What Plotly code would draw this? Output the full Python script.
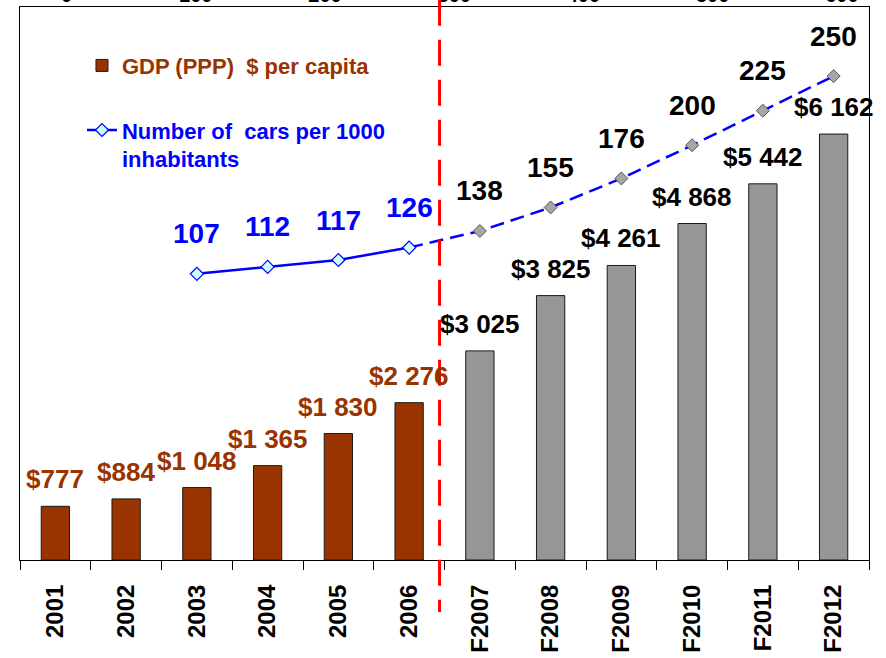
import plotly.graph_objects as go

# donnees du graphique
years = ["2001", "2002", "2003", "2004", "2005", "2006",
         "F2007", "F2008", "F2009", "F2010", "F2011", "F2012"]
gdp = [777, 884, 1048, 1365, 1830, 2276, 3025, 3825, 4261, 4868, 5442, 6162]
cars = [None, None, 107, 112, 117, 126, 138, 155, 176, 200, 225, 250]
n_hist = 6  # 2001-2006 = historique, le reste = prevision
top_ticks = [0, 100, 200, 300, 400, 500, 600]

BROWN = '#993300'
GREY = '#969696'
BLUE = '#0000FF'
FONT = 'Arial, Liberation Sans, sans-serif'

bar_colors = [BROWN] * n_hist + [GREY] * (len(years) - n_hist)

fig = go.Figure()

# barres du PIB
fig.add_trace(go.Bar(
    x=years, y=gdp,
    marker=dict(color=bar_colors, line=dict(color='#1a1a1a', width=1)),
    name="<span style='color:%s'>GDP (PPP)&nbsp;&nbsp;$ per capita</span>" % BROWN,
    legendgroup='gdp',
    hoverinfo='x+y'))

# ligne pointillee (prevision)
fc_x = years[n_hist - 1:]
fc_y = cars[n_hist - 1:]
fig.add_trace(go.Scatter(
    x=fc_x, y=fc_y, yaxis='y2', mode='lines+markers',
    line=dict(color=BLUE, width=2.5, dash='14px,7px'),
    marker=dict(symbol='diamond', size=10, color='#A6A6A6',
                line=dict(color='#555555', width=1)),
    showlegend=False, hoverinfo='x+y'))

# ligne pleine (historique)
hx = [x for x, c in zip(years[:n_hist], cars[:n_hist]) if c is not None]
hy = [c for c in cars[:n_hist] if c is not None]
fig.add_trace(go.Scatter(
    x=hx, y=hy, yaxis='y2', mode='lines+markers',
    line=dict(color=BLUE, width=2.5),
    marker=dict(symbol='diamond', size=10, color='#CCFFFF',
                line=dict(color=BLUE, width=1.2)),
    name="<span style='color:%s'>Number of&nbsp;&nbsp;cars per 1000<br>inhabitants</span>" % BLUE,
    legendgroup='cars', hoverinfo='x+y'))

# trace vide pour que l'axe du haut soit dessine
fig.add_trace(go.Scatter(x=[], y=[], xaxis='x2', showlegend=False, hoverinfo='skip'))

# etiquettes des valeurs (x = index de categorie)
annotations = []
for i, v in enumerate(gdp):
    annotations.append(dict(
        x=i, y=v, xref='x', yref='y', yshift=27, showarrow=False,
        text="$" + format(v, ',').replace(',', ' '),
        font=dict(family=FONT, size=26, color=BROWN if i < n_hist else 'black', weight='bold')))
for i, c in enumerate(cars):
    if c is None:
        continue
    annotations.append(dict(
        x=i, y=c, xref='x', yref='y2', yshift=40, showarrow=False,
        text=str(c),
        font=dict(family=FONT, size=28, color=BLUE if i < n_hist else 'black', weight='bold')))

fig.update_layout(
    width=886, height=658,
    margin=dict(l=20, r=17, t=7, b=98),
    paper_bgcolor='white', plot_bgcolor='white',
    font=dict(family=FONT, color='black'),
    bargap=0.6,
    showlegend=True,
    legend=dict(x=0.073, y=0.932, xanchor='left', yanchor='top',
                bgcolor='rgba(0,0,0,0)', valign='top',
                font=dict(family=FONT, size=22, weight='bold'),
                traceorder='grouped', tracegroupgap=33),
    annotations=annotations,
    xaxis=dict(type='category', categoryorder='array', categoryarray=years,
               range=[-0.5, len(years) - 0.5],
               showline=True, linecolor='black', linewidth=1, mirror=True,
               ticks='outside', ticklen=9, tickcolor='black', tickson='boundaries',
               tickangle=-90, ticklabelstandoff=14,
               tickfont=dict(family=FONT, size=24, color='black', weight='bold'),
               showgrid=False, zeroline=False, automargin=False),
    xaxis2=dict(overlaying='x', side='top', anchor='y', range=[-36, 621],
                tickmode='array', tickvals=top_ticks, ticks='', showline=False,
                showgrid=False, zeroline=False, automargin=False,
                tickfont=dict(family=FONT, size=20, color='black', weight='bold')),
    xaxis3=dict(overlaying='x', side='bottom', anchor='y', range=[-0.5, len(years) - 0.5],
                tickmode='array', tickvals=[i - 0.5 for i in range(len(years) + 1)],
                ticks='inside', ticklen=9, tickcolor='black', showticklabels=False,
                showline=False, showgrid=False, zeroline=False, automargin=False),
    yaxis=dict(range=[0, 8000], showticklabels=False, ticks='', showgrid=False,
               zeroline=False, showline=True, linecolor='black', linewidth=1, mirror=True,
               automargin=False),
    yaxis2=dict(overlaying='y', side='right', range=[-100, 300], visible=False),
)

# ligne rouge de separation historique / prevision
fig.add_shape(type='line', xref='x', yref='paper',
              x0=n_hist - 0.57, x1=n_hist - 0.57, y0=1.013, y1=-0.094,
              line=dict(color='#FF0000', width=3, dash='26px,14px'))

# pas de marge autour de la page
fig.write_html("out.html", config={'displayModeBar': False},
               post_script="document.body.style.margin='0';")
